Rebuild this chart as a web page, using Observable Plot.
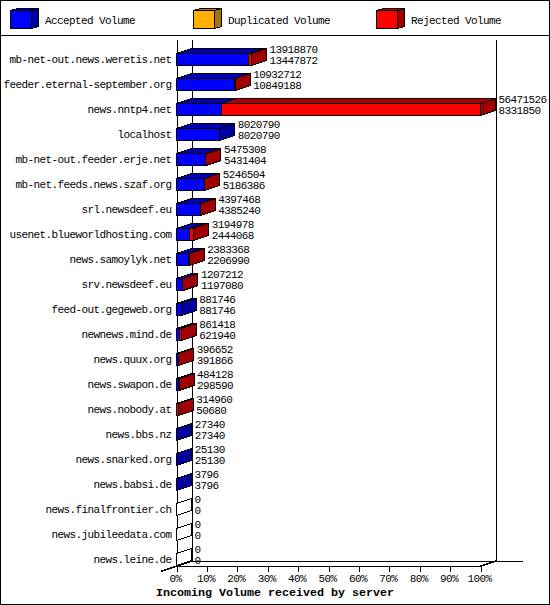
<!DOCTYPE html>
<html>
<head>
<meta charset="utf-8">
<script src="https://cdn.jsdelivr.net/npm/d3@7"></script>
<script src="https://cdn.jsdelivr.net/npm/@observablehq/plot@0.6"></script>
<style>
html,body{margin:0;padding:0;background:#fff}
#page{width:550px;height:605px;box-sizing:border-box;border:1px solid #000;overflow:hidden;background:#fff}
#legend{height:35px;box-sizing:border-box;border-bottom:1px solid #000}
svg{display:block}
.xtitle text{letter-spacing:0}
</style>
</head>
<body>
<div id="page"><div id="legend"></div><div id="chart"></div></div>
<script>
const servers = ["mb-net-out.news.weretis.net","feeder.eternal-september.org","news.nntp4.net","localhost","mb-net-out.feeder.erje.net","mb-net.feeds.news.szaf.org","srl.newsdeef.eu","usenet.blueworldhosting.com","news.samoylyk.net","srv.newsdeef.eu","feed-out.gegeweb.org","newnews.mind.de","news.quux.org","news.swapon.de","news.nobody.at","news.bbs.nz","news.snarked.org","news.babsi.de","news.finalfrontier.ch","news.jubileedata.com","news.leine.de"];
const totalVolume = [13918870,10932712,56471526,8020790,5475308,5246504,4397468,3194978,2383368,1207212,881746,861418,396652,484128,314960,27340,25130,3796,0,0,0];
const acceptedVolume = [13447872,10849188,8331850,8020790,5431404,5186386,4385240,2444068,2206990,1197080,881746,621940,391866,298590,50680,27340,25130,3796,0,0,0];
const legendNames = ["Accepted Volume","Duplicated Volume","Rejected Volume"];
const legendFront = ["#0000ff","#ffb000","#ff0000"];
const legendTop = ["#0000b0","#b07c00","#b00000"];
const legendSide = ["#0000a0","#a87400","#a00000"];
const percentTicks = [0,10,20,30,40,50,60,70,80,90,100];
const xTitle = "Incoming Volume received by server";

const FONT = "'Liberation Mono', 'DejaVu Sans Mono', monospace";
const textStyle = {fontFamily: FONT, fontSize: "11px", letterSpacing: "-0.6px", color: "#000", background: "transparent", shapeRendering: "crispEdges"};
const maxV = d3.max(totalVolume);
const pct = v => v / maxV * 100;

// Depth of the 3D effect, expressed in scale units
const DX = 15 / 3.04, DY = 0.2, H = 0.24;
const ROW_TOP = -0.78, ROW_BOTTOM = 20.24;

const fronts = [], tops = [], sides = [], labels = [];
servers.forEach((name, i) => {
  const a = pct(acceptedVolume[i]), t = pct(totalVolume[i]);
  const segs = [[0, a, "#0000ff", "#0000b0"], [a, t, "#ff0000", "#b00000"]];
  segs.forEach(([x1, x2, f, tf], k) => {
    if (x2 <= x1) return;
    fronts.push({x1, x2, y1: i - H, y2: i + H, fill: f});
    const z = i + "-" + k;
    tops.push({z, y: i - H, x1, x2, fill: tf});
    tops.push({z, y: i - H - DY, x1: x1 + DX, x2: x2 + DX, fill: tf});
  });
  const sf = t === 0 ? "#ffffff" : (t > a ? "#a00000" : "#0000a0");
  sides.push({z: i, x: t, y1: i - H, y2: i + H, fill: sf});
  sides.push({z: i, x: t + DX, y1: i - H - DY, y2: i + H - DY, fill: sf});
  labels.push({x: t, y: i, total: String(totalVolume[i]), acc: String(acceptedVolume[i])});
});

const chart = Plot.plot({
  width: 548, height: 568,
  marginLeft: 175.5, marginRight: 68.5, marginTop: 0, marginBottom: 38.5,
  style: textStyle,
  x: {domain: [0, 100], range: [175.5, 479.5], axis: null},
  y: {domain: [0, 20], range: [23.5, 523.5], axis: null},
  color: {type: "identity"},
  marks: [
    Plot.ruleX([0], {y1: ROW_TOP, y2: ROW_BOTTOM, stroke: "#000"}),
    Plot.ruleX([DX, 100 + DX], {y1: ROW_TOP, y2: ROW_BOTTOM - DY, stroke: "#000"}),
    Plot.ruleY([ROW_BOTTOM], {x1: 0, x2: 100, stroke: "#000"}),
    Plot.ruleY([ROW_BOTTOM - DY], {x1: DX, x2: 114, stroke: "#000"}),
    Plot.line([{x: -DX, y: ROW_BOTTOM + DY}, {x: DX, y: ROW_BOTTOM - DY}], {x: "x", y: "y", stroke: "#000"}),
    Plot.line([{x: 100, y: ROW_BOTTOM}, {x: 100 + DX, y: ROW_BOTTOM - DY}], {x: "x", y: "y", stroke: "#000"}),
    Plot.areaX(tops, {x1: "x1", x2: "x2", y: "y", z: "z", fill: "fill", stroke: "#000"}),
    Plot.areaY(sides, {x: "x", y1: "y1", y2: "y2", z: "z", fill: "fill", stroke: "#000"}),
    Plot.rect(fronts, {x1: "x1", x2: "x2", y1: "y1", y2: "y2", fill: "fill", stroke: "#000"}),
    Plot.text(labels, {x: "x", y: "y", text: "total", textAnchor: "start", dx: 17.5, dy: -11, fill: "#000"}),
    Plot.text(labels, {x: "x", y: "y", text: "acc", textAnchor: "start", dx: 17.5, dy: 0, fill: "#000"}),
    Plot.axisY(d3.range(servers.length), {tickFormat: i => servers[i], tickSize: 0, tickPadding: 5.5, dy: -1, label: null, fill: "#000"}),
    Plot.ruleX(percentTicks, {y1: ROW_BOTTOM, y2: ROW_BOTTOM + 0.24, stroke: "#000"}),
    Plot.axisX(percentTicks, {anchor: "bottom", tickFormat: d => d + "%", tickSize: 0, tickPadding: 8, dx: -1.5, label: null, fill: "#000"}),
    Plot.text([xTitle], {frameAnchor: "bottom", lineAnchor: "middle", dx: -54, dy: 26.5, text: d => d, fontWeight: "bold", fontSize: 11.67, className: "xtitle", fill: "#000"})
  ]
});
document.getElementById("chart").append(chart);

// Legend
const W = 21 / 183, LDX = 7 / 183, LDY = 2 / 18;
const lf = [], lt = [], ls = [];
legendNames.forEach((n, i) => {
  lf.push({x1: i, x2: i + W, y1: 0, y2: 1, fill: legendFront[i]});
  lt.push({z: i, y: 0, x1: i, x2: i + W, fill: legendTop[i]});
  lt.push({z: i, y: -LDY, x1: i + LDX, x2: i + W + LDX, fill: legendTop[i]});
  ls.push({z: i, x: i + W, y1: 0, y2: 1, fill: legendSide[i]});
  ls.push({z: i, x: i + W + LDX, y1: -LDY, y2: 1 - LDY, fill: legendSide[i]});
});
const legend = Plot.plot({
  width: 548, height: 34, margin: 0,
  style: textStyle,
  x: {domain: [0, 2], range: [9.5, 375.5], axis: null},
  y: {domain: [0, 1], range: [9.5, 27.5], axis: null},
  color: {type: "identity"},
  marks: [
    Plot.areaX(lt, {x1: "x1", x2: "x2", y: "y", z: "z", fill: "fill", stroke: "#000"}),
    Plot.areaY(ls, {x: "x", y1: "y1", y2: "y2", z: "z", fill: "fill", stroke: "#000"}),
    Plot.rect(lf, {x1: "x1", x2: "x2", y1: "y1", y2: "y2", fill: "fill", stroke: "#000"}),
    Plot.text(legendNames, {x: (d, i) => i, y: 0.5, text: d => d, textAnchor: "start", dx: 34, fill: "#000"})
  ]
});
document.getElementById("legend").append(legend);
</script>
</body>
</html>
